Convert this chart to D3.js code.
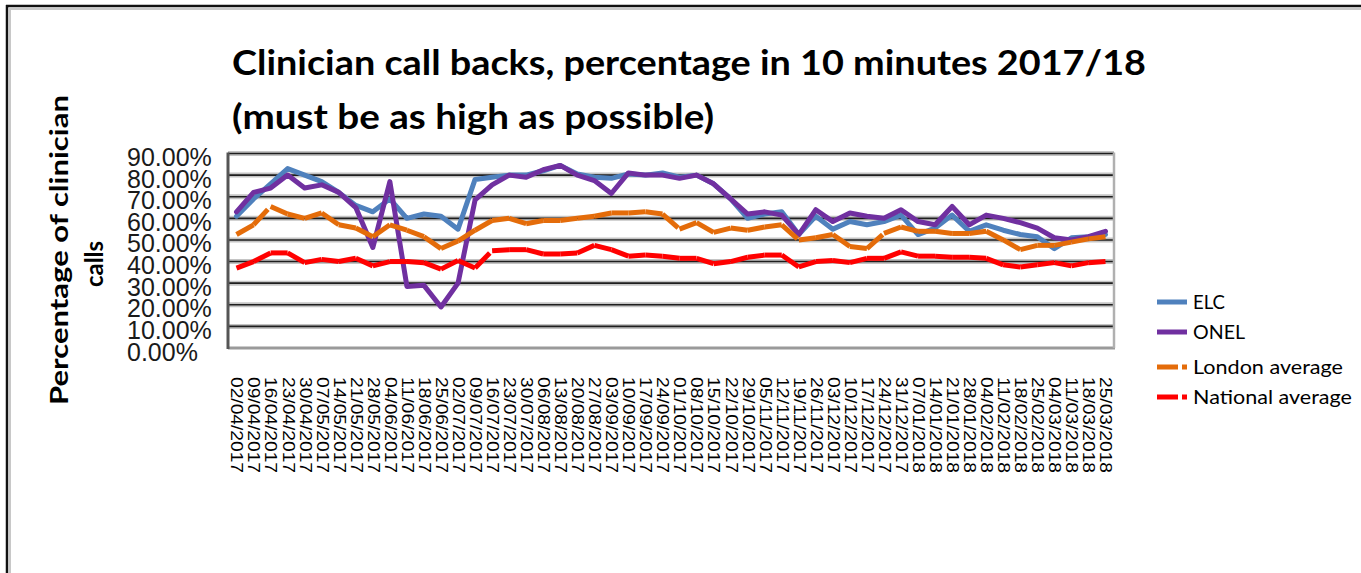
<!DOCTYPE html>
<html>
<head>
<meta charset="utf-8">
<script src="https://cdn.jsdelivr.net/npm/d3@7/dist/d3.min.js"></script>
<style>
  html, body { margin: 0; padding: 0; background: #fff; }
  svg { display: block; }
</style>
</head>
<body>
<svg id="chart" width="1361" height="573"></svg>
<script>
// Weekly periods (week commencing)
const weeks = [
  "02/04/2017","09/04/2017","16/04/2017","23/04/2017","30/04/2017","07/05/2017","14/05/2017",
  "21/05/2017","28/05/2017","04/06/2017","11/06/2017","18/06/2017","25/06/2017","02/07/2017",
  "09/07/2017","16/07/2017","23/07/2017","30/07/2017","06/08/2017","13/08/2017","20/08/2017",
  "27/08/2017","03/09/2017","10/09/2017","17/09/2017","24/09/2017","01/10/2017","08/10/2017",
  "15/10/2017","22/10/2017","29/10/2017","05/11/2017","12/11/2017","19/11/2017","26/11/2017",
  "03/12/2017","10/12/2017","17/12/2017","24/12/2017","31/12/2017","07/01/2018","14/01/2018",
  "21/01/2018","28/01/2018","04/02/2018","11/02/2018","18/02/2018","25/02/2018","04/03/2018",
  "11/03/2018","18/03/2018","25/03/2018"
];

// Percentage of clinician call backs within 10 minutes
const elc = [
  61, 69, 76, 83, 80, 77, 72, 66, 63, 69, 60, 62, 61, 55, 78, 79, 80, 80, 82, 84.5,
  80.5, 79, 78.5, 80.5, 80, 81, 79, 80, 76, 69, 60, 62, 63, 52.5, 61, 55, 58.5, 57, 58.5, 61.5,
  52.5, 55.5, 61.5, 54, 57, 54.5, 52.5, 51.5, 46, 51, 51.5, 52.5
];
const onel = [
  63, 72, 74, 80, 74, 75.5, 72, 65, 46.5, 77, 28.5, 29, 19, 30, 68.5, 75.5, 80, 79, 82.5, 84.5,
  80, 77.5, 71.5, 81, 80, 80, 78.5, 80, 76, 69, 62, 63, 61.5, 52.5, 64, 58.5, 62.5, 61, 60, 64,
  58.5, 57, 65.5, 57, 61.5, 60, 58, 55.5, 51, 50, 51.5, 54
];
const londonAvg = [
  52.5, 57, 65.5, 62, 60, 62.5, 57, 55.5, 51.5, 57, 54.5, 51.5, 46, 49.5, 54.5, 59, 60, 57.5, 59, 59,
  60, 61, 62.5, 62.5, 63, 62, 55, 58, 53.5, 55.5, 54.5, 56, 57, 50, 51, 52.5, 47, 46, 53, 56,
  54, 54, 53, 53, 54, 50, 45.5, 47.5, 47.5, 49, 50.5, 51.5
];
const nationalAvg = [
  37, 40, 44, 44, 39.5, 41, 40, 41.5, 38, 40, 40, 39.5, 36.5, 40.5, 37, 45, 45.5, 45.5, 43.5, 43.5,
  44, 47.5, 45.5, 42.5, 43, 42.5, 41.5, 41.5, 39, 40, 42, 43, 43, 37.5, 40, 40.5, 39.5, 41.5, 41.5, 44.5,
  42.5, 42.5, 42, 42, 41.5, 38.5, 37.5, 38.5, 39.5, 38, 39.5, 40
];

const yTicks = [0, 10, 20, 30, 40, 50, 60, 70, 80, 90];
const seriesNames = ["ELC", "ONEL", "London average", "National average"];

const series = [
  { name: seriesNames[0], values: elc,         color: "#4F81BD", dashed: false, legendLen: 32 },
  { name: seriesNames[1], values: onel,        color: "#7030A0", dashed: false, legendLen: 52 },
  { name: seriesNames[2], values: londonAvg,   color: "#E46C0A", dashed: true,  legendLen: 150 },
  { name: seriesNames[3], values: nationalAvg, color: "#FF0000", dashed: true,  legendLen: 159 }
];

const svg = d3.select("#chart");

// outer frame of the chart object
svg.append("line").attr("x1", 9).attr("x2", 1361).attr("y1", 9).attr("y2", 9)
  .attr("stroke", "#c8c8c8").attr("stroke-width", 2);
svg.append("line").attr("x1", 10).attr("x2", 10).attr("y1", 9).attr("y2", 573)
  .attr("stroke", "#c8c8c8").attr("stroke-width", 2);
svg.append("line").attr("x1", 6).attr("x2", 1361).attr("y1", 6).attr("y2", 6)
  .attr("stroke", "#111").attr("stroke-width", 2.5);
svg.append("line").attr("x1", 7).attr("x2", 7).attr("y1", 5).attr("y2", 573)
  .attr("stroke", "#111").attr("stroke-width", 2.5);

const plot = { left: 228, right: 1114, top: 153.5, bottom: 348 };

const x = d3.scalePoint().domain(weeks).range([plot.left, plot.right]).padding(0.5);
const y = d3.scaleLinear().domain([0, 90]).range([plot.bottom, plot.top]);

// Title
const titleFont = "Lato, 'Open Sans', sans-serif";
svg.append("text").attr("x", 232).attr("y", 75)
  .attr("font-family", titleFont).attr("font-weight", 700).attr("font-size", 34)
  .attr("textLength", 914).attr("lengthAdjust", "spacingAndGlyphs").attr("fill", "#000")
  .text("Clinician call backs, percentage in 10 minutes 2017/18");
svg.append("text").attr("x", 232).attr("y", 129)
  .attr("font-family", titleFont).attr("font-weight", 700).attr("font-size", 34)
  .attr("textLength", 482).attr("lengthAdjust", "spacingAndGlyphs").attr("fill", "#000")
  .text("(must be as high as possible)");

// Y axis title (two lines, rotated)
svg.append("text")
  .attr("transform", "translate(68,250) rotate(-90)")
  .attr("text-anchor", "middle")
  .attr("font-family", titleFont).attr("font-weight", 700).attr("font-size", 24)
  .attr("textLength", 310).attr("lengthAdjust", "spacingAndGlyphs")
  .text("Percentage of clinician");
svg.append("text")
  .attr("transform", "translate(103,264) rotate(-90)")
  .attr("text-anchor", "middle")
  .attr("font-family", titleFont).attr("font-weight", 700).attr("font-size", 24)
  .text("calls");

// Gridlines
const grid = svg.append("g");
const gridVals = yTicks.filter(v => v > 0);
grid.selectAll("line.halo").data(gridVals).join("line").attr("class", "halo")
  .attr("x1", plot.left).attr("x2", plot.right)
  .attr("y1", d => y(d)).attr("y2", d => y(d))
  .attr("stroke", "#c4c4c4").attr("stroke-width", 5);
grid.selectAll("line.core").data(gridVals).join("line").attr("class", "core")
  .attr("x1", plot.left).attr("x2", plot.right)
  .attr("y1", d => y(d)).attr("y2", d => y(d))
  .attr("stroke", "#1e1e1e").attr("stroke-width", 1.6);

// plot area borders
svg.append("line").attr("x1", plot.left).attr("x2", plot.right + 1)
  .attr("y1", plot.bottom).attr("y2", plot.bottom)
  .attr("stroke", "#9a9a9a").attr("stroke-width", 3);
svg.append("line").attr("x1", plot.right).attr("x2", plot.right)
  .attr("y1", plot.top - 1).attr("y2", plot.bottom)
  .attr("stroke", "#b0b0b0").attr("stroke-width", 2.5);
svg.append("line").attr("x1", plot.left).attr("x2", plot.left)
  .attr("y1", plot.top - 1).attr("y2", plot.bottom + 1)
  .attr("stroke", "#555").attr("stroke-width", 3);

// Y axis labels
const yAxis = d3.axisLeft(y).tickValues(yTicks).tickSize(0)
  .tickFormat(d => d.toFixed(2) + "%");
const gy = svg.append("g").attr("transform", "translate(127,0)").call(yAxis);
gy.select(".domain").remove();
gy.selectAll("text")
  .attr("x", 0).attr("dy", 12).attr("text-anchor", "start")
  .attr("font-family", "'Liberation Sans', Arial, sans-serif")
  .attr("font-size", 25).attr("fill", "#1a1a1a");

// X axis labels (rotated, reading downward)
const xAxis = d3.axisBottom(x).tickSize(0);
const gx = svg.append("g").attr("transform", `translate(0,${plot.bottom})`).call(xAxis);
gx.select(".domain").remove();
gx.selectAll("text")
  .attr("x", 0).attr("y", 0).attr("dy", "0.35em")
  .attr("transform", "translate(0,29) rotate(90)")
  .attr("text-anchor", "start")
  .attr("font-family", "'Liberation Sans', Arial, sans-serif")
  .attr("font-size", 16).attr("fill", "#000")
  .attr("textLength", 96).attr("lengthAdjust", "spacingAndGlyphs");

// Series lines
const line = d3.line().x((d, i) => x(weeks[i])).y(d => y(d));
const lineSeg = d3.line().x(d => x(d.w)).y(d => y(d.v));
const DASH = "21,4";
const lines = svg.append("g");
series.forEach(s => {
  if (!s.dashed) {
    lines.append("path")
      .attr("d", line(s.values))
      .attr("fill", "none").attr("stroke", s.color)
      .attr("stroke-width", 5).attr("stroke-linejoin", "round").attr("stroke-linecap", "round");
  } else {
    // dash pattern restarts on every segment
    const segs = d3.pairs(s.values.map((v, i) => ({ w: weeks[i], v })));
    lines.append("g").selectAll("path").data(segs).join("path")
      .attr("d", d => lineSeg(d))
      .attr("fill", "none").attr("stroke", s.color)
      .attr("stroke-width", 5).attr("stroke-linecap", "butt")
      .attr("stroke-dasharray", DASH);
  }
});

// Legend
const legend = svg.append("g");
const legendY = [302, 332, 367, 397];
series.forEach((s, i) => {
  legend.append("line")
    .attr("x1", 1157).attr("x2", 1187)
    .attr("y1", legendY[i]).attr("y2", legendY[i])
    .attr("stroke", s.color).attr("stroke-width", 5)
    .attr("stroke-dasharray", s.dashed ? DASH : null);
  legend.append("text")
    .attr("x", 1193).attr("y", legendY[i] + 7)
    .attr("font-family", "Lato, 'Open Sans', sans-serif")
    .attr("font-size", 19).attr("fill", "#000")
    .attr("textLength", s.legendLen).attr("lengthAdjust", "spacingAndGlyphs")
    .text(s.name);
});
</script>
</body>
</html>
